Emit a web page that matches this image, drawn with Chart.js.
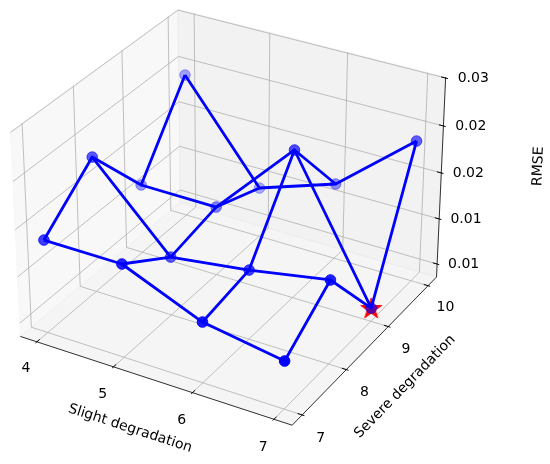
<!DOCTYPE html>
<html>
<head>
<meta charset="utf-8">
<script src="https://cdn.jsdelivr.net/npm/chart.js@4.4.1/dist/chart.umd.min.js"></script>
<style>
  html, body { margin: 0; padding: 0; background: #fff; }
</style>
</head>
<body>
<canvas id="chart" width="550" height="464"></canvas>
<script>
// grid of the two degradation levels
const slight = [4, 5, 6, 7];
const severe = [7, 8, 9, 10];

// RMSE for each slight level, one value per severe level
const rmseAt4 = [0.01852, 0.02314, 0.01608, 0.02424];
const rmseAt5 = [0.01851, 0.01487, 0.01604, 0.01401];
const rmseAt6 = [0.01502, 0.01601, 0.02450, 0.01682];
const rmseAt7 = [0.01363, 0.01752, 0.01000, 0.02377];
const rmse = [rmseAt4, rmseAt5, rmseAt6, rmseAt7];

const slightTicks = [4, 5, 6, 7];
const severeTicks = [7, 8, 9, 10];
const rmseTicks = [0.010, 0.015, 0.020, 0.025, 0.030];
const rmseTickLabels = ['0.01', '0.01', '0.02', '0.02', '0.03'];

// axis limits of the 3d box
const X_LIM = [3.85, 7.15];
const Y_LIM = [6.85, 10.15];
const Z_LIM = [0.00897, 0.02965];

// camera, same as a default mplot3d view
const ELEV = 30 * Math.PI / 180;
const AZIM = -60 * Math.PI / 180;
const DIST = 10;

const dot = (a, b) => a[0] * b[0] + a[1] * b[1] + a[2] * b[2];
const cross = (a, b) => [a[1] * b[2] - a[2] * b[1], a[2] * b[0] - a[0] * b[2], a[0] * b[1] - a[1] * b[0]];
const unit = a => { const n = Math.hypot(a[0], a[1], a[2]); return a.map(v => v / n); };

const BOX = (() => {
    const b = [4, 4, 3];
    const n = Math.hypot(b[0], b[1], b[2]);
    return b.map(v => v * 1.8294640721620434 / n);
})();
const VIEW_W = [Math.cos(ELEV) * Math.cos(AZIM), Math.cos(ELEV) * Math.sin(AZIM), Math.sin(ELEV)];
const EYE = BOX.map((b, k) => b / 2 + DIST * VIEW_W[k]);
const VIEW_U = unit(cross([0, 0, 1], VIEW_W));
const VIEW_V = cross(VIEW_W, VIEW_U);

// normalized box coords (0..1) -> projected plane coords
function project(n) {
    const p = n.map((v, k) => v * BOX[k] - EYE[k]);
    const d = -dot(VIEW_W, p);
    return { x: dot(VIEW_U, p) / d, y: dot(VIEW_V, p) / d, depth: d };
}

const normX = v => (v - X_LIM[0]) / (X_LIM[1] - X_LIM[0]);
const normY = v => (v - Y_LIM[0]) / (Y_LIM[1] - Y_LIM[0]);
const normZ = v => (v - Z_LIM[0]) / (Z_LIM[1] - Z_LIM[0]);
const toPlane = (sx, sy, z) => project([normX(sx), normY(sy), normZ(z)]);

// wireframe rows and columns
const wireLines = [];
slight.forEach((sx, i) => wireLines.push(severe.map((sy, j) => toPlane(sx, sy, rmse[i][j]))));
severe.forEach((sy, j) => wireLines.push(slight.map((sx, i) => toPlane(sx, sy, rmse[i][j]))));

const wireDatasets = wireLines.map(line => ({
    data: line.map(p => ({ x: p.x, y: p.y })),
    showLine: true,
    borderColor: 'blue',
    borderWidth: 2.8,
    borderJoinStyle: 'round',
    pointRadius: 0,
    tension: 0,
    order: 1
}));

// scatter with depth shading (far points fade)
const pts = [];
slight.forEach((sx, i) => severe.forEach((sy, j) => pts.push(toPlane(sx, sy, rmse[i][j]))));
const far = pts.map(p => -1 / p.depth);
const farMin = Math.min(...far), farMax = Math.max(...far);
const ptColors = far.map(f => `rgba(0,0,255,${(1 - 0.7 * (f - farMin) / (farMax - farMin)).toFixed(3)})`);

// best run
let best = { i: 0, j: 0 };
rmse.forEach((row, i) => row.forEach((v, j) => { if (v < rmse[best.i][best.j]) best = { i, j }; }));
const bestPt = toPlane(slight[best.i], severe[best.j], rmse[best.i][best.j]);

function starImage(r, color) {
    const c = document.createElement('canvas');
    const size = Math.ceil(2 * r + 4);
    c.width = size;
    c.height = size;
    const g = c.getContext('2d');
    g.translate(size / 2, size / 2 + r * 0.08);
    g.beginPath();
    for (let k = 0; k < 10; k++) {
        const rr = k % 2 ? r * 0.381966 : r;
        const a = -Math.PI / 2 + k * Math.PI / 5;
        g.lineTo(rr * Math.cos(a), rr * Math.sin(a));
    }
    g.closePath();
    g.fillStyle = color;
    g.fill();
    g.lineWidth = 1;
    g.strokeStyle = color;
    g.stroke();
    return c;
}

// panes, grid, axes and their texts
const LO = -1 / 48, HI = 1 + 1 / 48;
const TICK_IN = 0.2 / 12, TICK_OUT = 0.1 / 12;
const TICK_LABEL_GAP = 0.0689;
const AXIS_LABEL_GAP = 0.1435;
const ZLABEL_GAP = 0.25;
const TICK_LABEL_SHIFT = 4;
const FONT = '14px "DejaVu Sans", sans-serif';

const box3d = {
    id: 'box3d',
    beforeDatasetsDraw(chart) {
        const ctx = chart.ctx;
        const sx = chart.scales.x, sy = chart.scales.y;
        const px = n => { const p = project(n); return [sx.getPixelForValue(p.x), sy.getPixelForValue(p.y)]; };
        const poly = (pts3, close) => {
            ctx.beginPath();
            pts3.forEach((n, k) => { const q = px(n); k ? ctx.lineTo(q[0], q[1]) : ctx.moveTo(q[0], q[1]); });
            if (close) ctx.closePath();
        };

        ctx.save();
        // panes
        const panes = [
            [[[LO, LO, LO], [LO, HI, LO], [LO, HI, HI], [LO, LO, HI]], 'rgba(242,242,242,0.5)'],
            [[[LO, HI, LO], [HI, HI, LO], [HI, HI, HI], [LO, HI, HI]], 'rgba(230,230,230,0.5)'],
            [[[LO, LO, LO], [HI, LO, LO], [HI, HI, LO], [LO, HI, LO]], 'rgba(236,236,236,0.5)']
        ];
        panes.forEach(([corners, color]) => {
            poly(corners, true);
            ctx.fillStyle = color;
            ctx.fill();
            ctx.strokeStyle = color;
            ctx.lineWidth = 1;
            ctx.stroke();
        });

        // grid
        ctx.strokeStyle = '#b0b0b0';
        ctx.lineWidth = 0.8;
        slightTicks.forEach(t => { const n = normX(t); poly([[n, LO, LO], [n, HI, LO], [n, HI, HI]]); ctx.stroke(); });
        severeTicks.forEach(t => { const n = normY(t); poly([[LO, n, HI], [LO, n, LO], [HI, n, LO]]); ctx.stroke(); });
        rmseTicks.forEach(t => { const n = normZ(t); poly([[LO, LO, n], [LO, HI, n], [HI, HI, n]]); ctx.stroke(); });

        // axis lines
        ctx.strokeStyle = '#000';
        ctx.lineWidth = 0.8;
        poly([[LO, LO, LO], [HI, LO, LO]]); ctx.stroke();
        poly([[HI, LO, LO], [HI, HI, LO]]); ctx.stroke();
        poly([[HI, HI, LO], [HI, HI, HI]]); ctx.stroke();

        // ticks
        ctx.lineWidth = 1;
        slightTicks.forEach(t => { const n = normX(t); poly([[n, LO - TICK_OUT, LO], [n, LO + TICK_IN, LO]]); ctx.stroke(); });
        severeTicks.forEach(t => { const n = normY(t); poly([[HI + TICK_OUT, n, LO], [HI - TICK_IN, n, LO]]); ctx.stroke(); });
        rmseTicks.forEach(t => { const n = normZ(t); poly([[HI + TICK_OUT, HI, n], [HI - TICK_IN, HI, n]]); ctx.stroke(); });

        // tick labels
        ctx.fillStyle = '#000';
        ctx.font = FONT;
        ctx.textAlign = 'center';
        ctx.textBaseline = 'middle';
        const label = (n, text) => { const q = px(n); ctx.fillText(text, q[0], q[1] + TICK_LABEL_SHIFT); };
        slightTicks.forEach(t => label([normX(t), LO - TICK_LABEL_GAP, LO - TICK_LABEL_GAP], String(t)));
        severeTicks.forEach(t => label([HI + TICK_LABEL_GAP, normY(t), LO - TICK_LABEL_GAP], String(t)));
        rmseTicks.forEach((t, k) => label([HI + TICK_LABEL_GAP, HI + TICK_LABEL_GAP, normZ(t)], rmseTickLabels[k]));

        // axis titles, turned along their edge
        const title = (at, edgeA, edgeB, text) => {
            const q = px(at), a = px(edgeA), b = px(edgeB);
            let ang = Math.atan2(b[1] - a[1], b[0] - a[0]);
            if (ang > Math.PI / 2) ang -= Math.PI;
            if (ang < -Math.PI / 2) ang += Math.PI;
            ctx.save();
            ctx.translate(q[0], q[1]);
            ctx.rotate(ang);
            ctx.fillText(text, 0, 0);
            ctx.restore();
        };
        title([0.5, LO - AXIS_LABEL_GAP, LO - AXIS_LABEL_GAP], [LO, LO, LO], [HI, LO, LO], 'Slight degradation');
        title([HI + AXIS_LABEL_GAP, 0.5, LO - AXIS_LABEL_GAP], [HI, LO, LO], [HI, HI, LO], 'Severe degradation');
        title([HI + ZLABEL_GAP, HI + ZLABEL_GAP, 0.5], [HI, HI, LO], [HI, HI, HI], 'RMSE');
        ctx.restore();
    }
};

// visible window of the projected plane
const VIEW_X = [-0.08883, 0.12149];
const VIEW_Y = [-0.09816, 0.07927];

new Chart(document.getElementById('chart'), {
    type: 'scatter',
    data: {
        datasets: [
            ...wireDatasets,
            {
                data: pts.map(p => ({ x: p.x, y: p.y })),
                pointRadius: 5.3,
                pointBackgroundColor: ptColors,
                pointBorderColor: ptColors,
                pointBorderWidth: 1,
                order: 0
            },
            {
                data: [{ x: bestPt.x, y: bestPt.y }],
                pointStyle: starImage(11, 'red'),
                pointRadius: 11,
                order: 2
            }
        ]
    },
    options: {
        responsive: false,
        animation: false,
        events: [],
        layout: { padding: 0, autoPadding: false },
        scales: {
            x: { type: 'linear', display: false, min: VIEW_X[0], max: VIEW_X[1] },
            y: { type: 'linear', display: false, min: VIEW_Y[0], max: VIEW_Y[1] }
        },
        plugins: {
            legend: { display: false },
            tooltip: { enabled: false }
        }
    },
    plugins: [box3d]
});
</script>
</body>
</html>
